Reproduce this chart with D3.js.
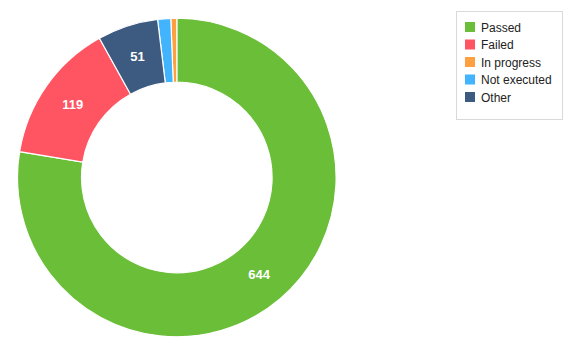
<!DOCTYPE html>
<html><head><meta charset="utf-8">
<script src="https://cdn.jsdelivr.net/npm/d3@7"></script>
<style>body{margin:0;background:#fff;} svg{display:block;font-family:"Liberation Sans",Arial,sans-serif;}</style>
</head><body>
<svg id="c" width="571" height="356"></svg>
<script>
const categories = ["Passed", "Failed", "In progress", "Not executed", "Other"];
const values = [644, 119, 5, 11, 51];
const colors = ["#6abe38", "#ff5462", "#ffa040", "#42b3fd", "#3d5a80"];
const labelMin = 20;

const svg = d3.select("#c");
const cx = 176.8, cy = 177.5, rOuter = 159.3, rInner = 95.3;
const data = categories.map((c, i) => ({cat: c, value: values[i], color: colors[i]}));
const pie = d3.pie().value(d => d.value).sort((a, b) => b.value - a.value);
const arc = d3.arc().innerRadius(rInner).outerRadius(rOuter);
const g = svg.append("g").attr("transform", `translate(${cx},${cy})`);
const arcs = pie(data);
g.selectAll("path").data(arcs).enter().append("path")
  .attr("d", arc).attr("fill", d => d.data.color)
  .attr("stroke", "#fff").attr("stroke-width", 1.2);
g.selectAll("text").data(arcs.filter(d => d.data.value >= labelMin)).enter().append("text")
  .attr("transform", d => `translate(${arc.centroid(d)})`)
  .attr("text-anchor", "middle").attr("dy", "0.35em")
  .attr("fill", "#fff").attr("font-weight", "bold").attr("font-size", 13)
  .text(d => d.data.value);

// legend
const lg = svg.append("g");
lg.append("rect").attr("x", 456.5).attr("y", 11.5).attr("width", 106).attr("height", 108)
  .attr("fill", "#fff").attr("stroke", "#d9d9d9").attr("stroke-width", 1);
const items = lg.selectAll("g.item").data(data).enter().append("g")
  .attr("transform", (d, i) => `translate(465,${22 + i * 17.5})`);
items.append("rect").attr("width", 10).attr("height", 10).attr("fill", d => d.color);
items.append("text").attr("x", 16).attr("y", 9.5).attr("font-size", 12).attr("fill", "#222")
  .text(d => d.cat);
</script>
</body></html>
